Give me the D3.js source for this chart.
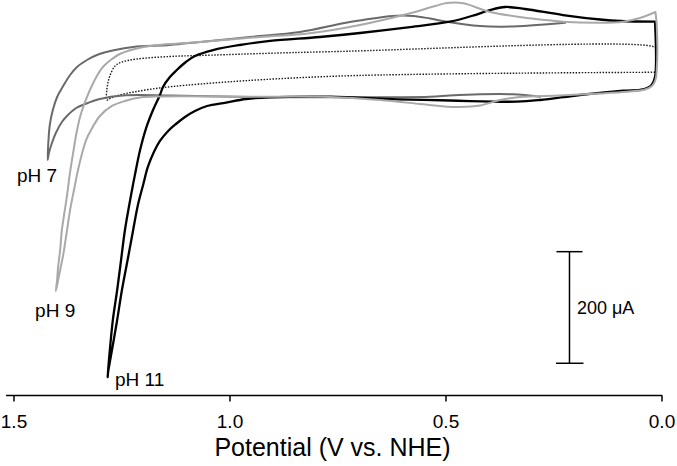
<!DOCTYPE html>
<html>
<head>
<meta charset="utf-8">
<script src="https://cdn.jsdelivr.net/npm/d3@7"></script>
<style>
  html, body { margin: 0; padding: 0; background: #fff; }
  svg { display: block; font-family: "Liberation Sans", Arial, sans-serif; }
</style>
</head>
<body>
<svg id="chart" width="677" height="466"></svg>
<script>
// Potential (V vs. NHE), current (µA) pairs
const blank = [
  [0.015,-0.5],[0.744,-7.2],[1.068,-21.5],[1.184,-31.0],[1.254,-41.2],[1.277,-47.5],[1.284,-50.2],
  [1.284,-32.3],[1.281,-17.9],[1.277,-7.2],[1.265,10.8],[1.249,17.9],[1.214,23.3],[1.138,27.8],
  [1.068,29.6],[0.767,36.4],[0.015,44.3],[0.013,39.4],[0.013,3.6],[0.015,-0.5]
];
const pH7 = [
  [0.281,-44.3],[0.344,-40.0],[0.420,-40.0],[0.490,-42.1],[0.536,-44.3],[0.767,-45.3],[0.953,-44.8],
  [1.138,-42.1],[1.247,-42.1],[1.300,-48.4],[1.334,-57.3],[1.355,-64.5],[1.374,-77.1],[1.388,-89.6],
  [1.402,-109.3],[1.411,-127.2],[1.418,-145.2],[1.421,-157.7],
  [1.419,-121.9],[1.416,-95.0],[1.409,-68.1],[1.399,-44.8],[1.385,-25.1],[1.369,-5.4],[1.353,9.0],
  [1.330,21.5],[1.307,30.5],[1.265,39.4],[1.223,44.8],[1.138,48.4],[1.068,53.8],[0.953,62.7],
  [0.837,71.7],[0.737,87.3],[0.691,93.2],[0.622,100.4],[0.575,100.4],[0.536,95.9],[0.497,90.1],
  [0.420,82.4],[0.367,81.2],[0.304,83.3],[0.223,88.3]
];
const pH9 = [
  [0.014,107.5],[0.011,84.2],[0.011,3.6],[0.014,-14.3],[0.022,-25.1],[0.038,-31.4],[0.080,-35.3],
  [0.142,-38.5],[0.235,-42.1],[0.328,-44.8],[0.374,-50.2],[0.420,-60.0],[0.466,-62.7],[0.513,-60.9],
  [0.559,-57.3],[0.652,-50.2],[0.767,-44.8],[0.953,-44.3],[1.161,-43.9],[1.207,-45.7],[1.242,-52.0],
  [1.272,-60.9],[1.300,-78.8],[1.318,-100.4],[1.332,-121.9],[1.348,-166.7],[1.360,-211.5],
  [1.369,-247.3],[1.376,-283.1],[1.385,-327.9],[1.392,-354.8],[1.398,-378.1],[1.402,-392.4],
  [1.399,-372.7],[1.397,-351.2],[1.392,-319.0],[1.388,-283.1],[1.383,-256.3],[1.376,-220.5],
  [1.369,-179.2],[1.362,-145.2],[1.355,-112.9],[1.346,-80.6],[1.337,-59.1],[1.323,-32.3],
  [1.307,-7.2],[1.293,9.0],[1.272,23.3],[1.254,32.3],[1.219,41.2],[1.184,46.6],[1.068,53.8],
  [0.929,62.7],[0.814,69.4],[0.698,84.2],[0.582,105.2],[0.524,118.3],[0.497,123.6],[0.459,123.1],
  [0.397,107.5],[0.304,96.2],[0.228,90.1],[0.142,88.3],[0.089,90.1],[0.050,96.8],[0.014,107.5]
];
const pH11 = [
  [0.015,90.1],[0.015,-9.0],[0.023,-23.3],[0.043,-31.0],[0.089,-33.5],[0.189,-41.2],[0.281,-50.2],
  [0.335,-53.2],[0.490,-51.1],[0.612,-48.9],[0.767,-44.3],[0.906,-45.3],[0.962,-48.4],[1.008,-54.7],
  [1.052,-60.9],[1.080,-69.9],[1.103,-80.6],[1.124,-93.2],[1.142,-105.7],[1.161,-123.6],
  [1.175,-143.4],[1.189,-170.2],[1.200,-202.5],[1.212,-238.3],[1.223,-283.1],[1.235,-333.3],
  [1.249,-390.7],[1.260,-444.2],[1.270,-489.2],[1.277,-519.7],[1.281,-537.6],[1.282,-546.6],
  [1.280,-525.1],[1.277,-498.2],[1.270,-444.2],[1.260,-390.7],[1.251,-336.9],[1.242,-283.1],
  [1.230,-229.4],[1.219,-184.6],[1.207,-139.8],[1.193,-100.4],[1.177,-68.1],[1.161,-41.2],
  [1.154,-26.9],[1.138,-9.0],[1.122,3.6],[1.101,17.9],[1.080,28.7],[1.038,39.4],[0.976,48.4],
  [0.906,55.6],[0.791,62.7],[0.698,69.9],[0.582,80.6],[0.490,90.1],[0.432,102.1],[0.397,111.1],
  [0.362,116.5],[0.316,112.9],[0.228,102.1],[0.142,94.1],[0.096,91.4],[0.015,90.1]
];
const xTicks = [1.5, 1.0, 0.5, 0.0];
const curveLabels = [
  { text: "pH 7", v: 1.492, i: -197.1 },
  { text: "pH 9", v: 1.450, i: -438.5 },
  { text: "pH 11", v: 1.265, i: -562.2 }
];
const scaleBar = { v: 0.213, from: -322, to: -522, text: "200 \u03BCA" };
const xTitle = "Potential (V vs. NHE)";

const svg = d3.select("#chart");
const x = d3.scaleLinear().domain([1.5, 0]).range([13.5, 661.5]);
const y = d3.scaleLinear().domain([0, -200]).range([72, 183.6]);
const line = d3.line().x(d => x(d[0])).y(d => y(d[1])).curve(d3.curveCatmullRom.alpha(0.5));

const series = [
  { data: blank, color: "#1a1a1a", width: 1.4, dash: "1.5,1.5", cap: "butt" },
  { data: pH7, color: "#6a6a6a", width: 2 },
  { data: pH11, color: "#000", width: 2.3 },
  { data: pH9, color: "#a9a9a9", width: 2 }
];
svg.append("g").selectAll("path").data(series).join("path")
  .attr("d", d => line(d.data))
  .attr("fill", "none")
  .attr("stroke", d => d.color)
  .attr("stroke-width", d => d.width)
  .attr("stroke-dasharray", d => d.dash || null)
  .attr("stroke-linejoin", "round")
  .attr("stroke-linecap", d => d.cap || "round");

// x axis
const axisY = 395.5;
const ax = svg.append("g").attr("transform", `translate(0,${axisY})`)
  .call(d3.axisBottom(x).tickValues(xTicks).tickFormat(d3.format(".1f")).tickSize(6).tickSizeOuter(0));
ax.select(".domain").remove();
ax.selectAll(".tick line").attr("stroke", "#000").attr("stroke-width", 1.5);
ax.selectAll(".tick text").attr("font-size", 19).attr("fill", "#000")
  .attr("font-family", "'Liberation Sans', Arial, sans-serif")
  .attr("y", 32.5).attr("dy", 0);
svg.append("line").attr("x1", 6).attr("x2", 662.2).attr("y1", axisY).attr("y2", axisY)
  .attr("stroke", "#000").attr("stroke-width", 1.5);
svg.append("text").attr("x", 332.5).attr("y", 456).attr("text-anchor", "middle")
  .attr("font-size", 25).attr("fill", "#000").text(xTitle);

// curve labels
svg.append("g").selectAll("text").data(curveLabels).join("text")
  .attr("x", d => x(d.v)).attr("y", d => y(d.i))
  .attr("font-size", 19).attr("fill", "#000").text(d => d.text);

// scale bar
const sb = svg.append("g").attr("stroke", "#000").attr("stroke-width", 1.5);
const sx = x(scaleBar.v);
sb.append("line").attr("x1", sx).attr("x2", sx).attr("y1", y(scaleBar.from)).attr("y2", y(scaleBar.to));
sb.append("line").attr("x1", sx - 13).attr("x2", sx + 13).attr("y1", y(scaleBar.from)).attr("y2", y(scaleBar.from));
sb.append("line").attr("x1", sx - 13.5).attr("x2", sx + 14).attr("y1", y(scaleBar.to)).attr("y2", y(scaleBar.to));
svg.append("text").attr("x", sx + 7.5).attr("y", y((scaleBar.from + scaleBar.to) / 2) + 6.5)
  .attr("font-size", 18).attr("fill", "#000").text(scaleBar.text);
</script>
</body>
</html>
